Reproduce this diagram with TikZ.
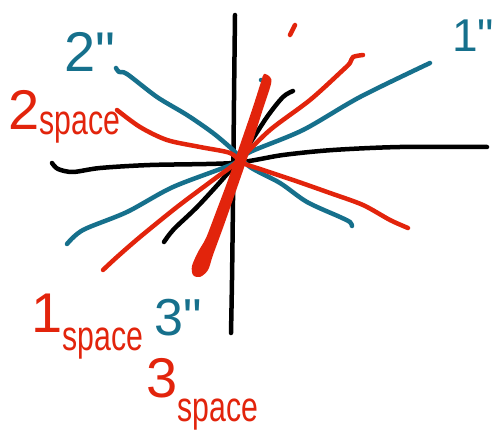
\documentclass[tikz,border=0pt]{standalone}
\usepackage{fontspec}
\setmainfont{Liberation Sans}
\usepackage{graphicx}
\definecolor{inkteal}{RGB}{22,112,140}
\definecolor{inkred}{RGB}{226,36,12}
\newcommand{\spacelab}[2]{{\fontsize{56}{56}\selectfont #1}\raisebox{-#2}{\scalebox{0.72}[1]{\fontsize{42}{44}\selectfont space}}}

\begin{document}
\begin{tikzpicture}[
    x=1pt,y=-1pt,
    pen/.style={line width=4.5pt, line cap=round, line join=round},
    axisink/.style={pen, black},
    tealink/.style={pen, inkteal},
    redink/.style={pen, inkred},
    tealtag/.style={inkteal, inner sep=0pt, anchor=base west},
    redtag/.style={inkred, inner sep=0pt, anchor=base west}
]
\useasboundingbox (0,0) rectangle (495,438);

\draw[axisink] plot[smooth] coordinates {(235,15) (234,100) (233,200) (232,280) (231,333)};
\draw[axisink] plot[smooth] coordinates {(52,163) (58,169) (73,172) (100,168) (150,165) (233,163) (283,155) (333,150) (400,147) (487,147)};
\draw[axisink] plot[smooth] coordinates {(164,242) (174,229) (200,204) (237,162) (267,117) (283,97) (293,91)};

\draw[tealink] plot[smooth] coordinates {(67,244) (83,230) (127,212) (173,187) (233,164) (250,152) (303,130) (360,97) (430,63)};
\draw[tealink] plot[smooth] coordinates {(116,68) (119,72) (127,74) (157,97) (187,115) (213,133) (233,150) (250,167) (280,183) (307,202) (340,217) (350,222) (352,226)};
\draw[tealink] plot[smooth] coordinates {(218,225) (232,180) (245,148) (256,118) (262,92) (265,82) (261,80)};

\draw[redink] plot[smooth] coordinates {(103,270) (117,257) (140,237) (177,207) (213,180) (237,162) (270,130) (310,100) (343,70) (350,63) (353,57) (363,55)};
\draw[redink] plot[smooth] coordinates {(117,110) (140,127) (167,140) (200,147) (230,153) (243,163) (263,170) (293,180) (330,193) (363,205) (390,220) (408,228)};
\draw[redink] (290,35) -- (295,25);
\fill[inkred] plot[smooth cycle] coordinates {(264,74) (270,77) (271,84) (262,112) (250,150) (238,185) (224,225) (213,255) (208,270) (200,277) (193,275) (192,266) (198,252) (206,238) (216,212) (228,180) (240,145) (252,110) (261,82)};

\node[tealtag, font=\fontsize{56}{56}\selectfont] (twoinch) at (64,72) {2\textquotedbl};
\node[tealtag, font=\fontsize{46}{46}\selectfont] (oneinch) at (452,52) {1\textquotedbl};
\node[tealtag, font=\fontsize{52}{52}\selectfont] (threeinch) at (154,335) {3\textquotedbl};

\node[redtag] (twospace) at (8,130) {\spacelab{2}{5pt}};
\node[redtag] (onespace) at (31,332) {\spacelab{1}{18pt}};
\node[redtag] (threespace) at (146,397) {\spacelab{3}{24pt}};
\end{tikzpicture}
\end{document}
